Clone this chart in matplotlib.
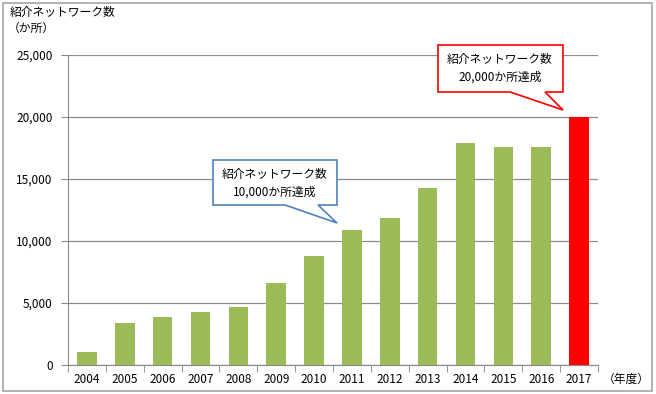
import matplotlib.pyplot as plt
from matplotlib.patches import Polygon, Rectangle

plt.rcParams['font.family'] = ['Noto Sans CJK JP', 'DejaVu Sans']

years = ['2004', '2005', '2006', '2007', '2008', '2009', '2010',
         '2011', '2012', '2013', '2014', '2015', '2016', '2017']
counts = [1050, 3350, 3850, 4250, 4650, 6600, 8800,
          10900, 11850, 14250, 17900, 17600, 17600, 20000]
bar_colors = ['#9BBB59'] * 13 + ['#FF0000']

W, H = 656, 394
fig = plt.figure(figsize=(W / 100, H / 100), dpi=100)
ax = fig.add_axes([68 / W, 1 - 365 / H, (598 - 68) / W, (365 - 55) / H])

x = list(range(len(years)))
ax.bar(x, counts, width=0.52, color=bar_colors, zorder=3)
ax.set_xlim(-0.5, len(years) - 0.5)
ax.set_ylim(0, 25000)
ax.set_yticks(range(0, 25001, 5000))
ax.set_yticklabels([f'{v:,}' for v in range(0, 25001, 5000)], fontsize=8.5)
ax.set_xticks(x)
ax.set_xticklabels(years, fontsize=8.5)
ax.tick_params(axis='x', length=0, pad=6)
ax.tick_params(axis='y', length=5, color='#888888', pad=6)
ax.set_xticks([i - 0.5 for i in range(len(years) + 1)], minor=True)
ax.tick_params(axis='x', which='minor', length=5, color='#888888')
ax.yaxis.grid(True, color='#8c8c8c', linewidth=0.9, zorder=0)
for s in ['top', 'right']:
    ax.spines[s].set_visible(False)
for s in ['left', 'bottom']:
    ax.spines[s].set_color('#888888')


def px(pts):
    return [(a / W, 1 - b / H) for a, b in pts]


# outer border
fig.patches.append(Rectangle((3 / W, 1 - 391 / H), 649 / W, 388 / H,
                             transform=fig.transFigure, fill=False,
                             edgecolor='#a6a6a6', linewidth=1.2))

# callouts
blue = [(213, 160), (337, 160), (337, 205), (318, 205), (337, 223),
        (285, 205), (213, 205)]
fig.patches.append(Polygon(px(blue), closed=True, transform=fig.transFigure,
                           facecolor='white', edgecolor='#4F81BD',
                           linewidth=1.2, zorder=5))
fig.text(275 / W, 1 - 183 / H, '紹介ネットワーク数\n10,000か所達成', ha='center',
         va='center', fontsize=8.5, linespacing=1.5, zorder=6)

red = [(438, 45), (563, 45), (563, 92), (545, 92), (563, 110),
       (510, 92), (438, 92)]
fig.patches.append(Polygon(px(red), closed=True, transform=fig.transFigure,
                           facecolor='white', edgecolor='#FF0000',
                           linewidth=1.2, zorder=5))
fig.text(500 / W, 1 - 68 / H, '紹介ネットワーク数\n20,000か所達成', ha='center',
         va='center', fontsize=8.5, linespacing=1.5, zorder=6)

fig.text(10 / W, 1 - 12 / H, '紹介ネットワーク数', fontsize=8.5, va='center')
fig.text(8 / W, 1 - 28 / H, '（か所）', fontsize=8.5, va='center')
fig.text(603 / W, 1 - 379 / H, '（年度）', fontsize=8.5, va='center')

fig.savefig('out.png', dpi=100)
